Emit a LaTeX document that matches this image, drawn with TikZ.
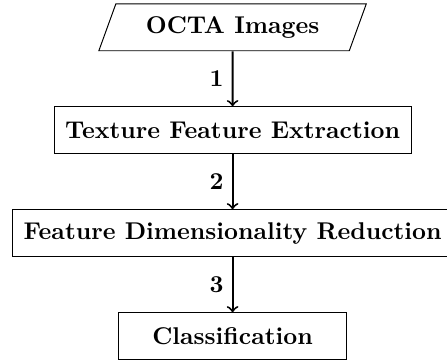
\documentclass[tikz,border=0pt]{standalone}
\usetikzlibrary{positioning,shapes.geometric}
\begin{document}
\begin{tikzpicture}[>=to, node distance=0.8cm,
  block/.style={draw, rectangle, minimum width=3.3cm, minimum height=0.68cm, inner xsep=4.5pt, font=\bfseries},
  inout/.style={draw, trapezium, trapezium left angle=70, trapezium right angle=110, trapezium stretches=true, minimum width=3.9cm, minimum height=0.68cm, font=\bfseries},
  flow/.style={->, thick}]
% các khối của sơ đồ
\node[inout] (octa) {OCTA Images};
\node[block, below=of octa] (texture) {Texture Feature Extraction};
\node[block, below=of texture] (reduction) {Feature Dimensionality Reduction};
\node[block, below=of reduction] (classify) {Classification};
% các mũi tên, đánh số bước
\draw[flow] (octa) -- node[left]{\textbf{1}} (texture);
\draw[flow] (texture) -- node[left]{\textbf{2}} (reduction);
\draw[flow] (reduction) -- node[left]{\textbf{3}} (classify);
% khung hình (cắt bớt mép phải)
\coordinate (nw) at ([shift={(-5pt,1.4pt)}]reduction.west |- octa.north);
\coordinate (se) at ([shift={(-2.5pt,-1.2pt)}]reduction.east |- classify.south);
\pgfresetboundingbox
\useasboundingbox (nw) rectangle (se);
\end{tikzpicture}
\end{document}
